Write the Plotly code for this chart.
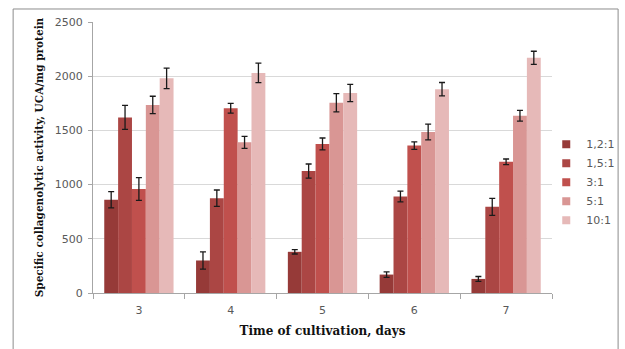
import plotly.graph_objects as go

# Cultivation time (days) and substrate ratios
days = ["3", "4", "5", "6", "7"]
ratios = ["1,2:1", "1,5:1", "3:1", "5:1", "10:1"]

# Specific collagenolytic activity, UCA/mg protein (mean values per ratio)
act_1_2 = [860, 300, 380, 170, 130]
act_1_5 = [1620, 875, 1125, 890, 795]
act_3 = [960, 1705, 1375, 1360, 1210]
act_5 = [1735, 1390, 1755, 1485, 1635]
act_10 = [1980, 2030, 1845, 1880, 2170]

# Standard deviations
err_1_2 = [75, 80, 20, 25, 22]
err_1_5 = [110, 75, 65, 50, 78]
err_3 = [105, 45, 55, 35, 26]
err_5 = [80, 55, 85, 72, 50]
err_10 = [95, 90, 80, 62, 60]

values = [act_1_2, act_1_5, act_3, act_5, act_10]
errors = [err_1_2, err_1_5, err_3, err_5, err_10]
colors = ["#963a38", "#ab4644", "#c0504d", "#d99694", "#e6b9b8"]

fig = go.Figure()
for name, vals, errs, col in zip(ratios, values, errors, colors):
    fig.add_trace(go.Bar(
        x=days, y=vals, name=name, showlegend=False,
        marker=dict(color=col, line=dict(width=0)),
        error_y=dict(type="data", array=errs, visible=True,
                     color="#1a1a1a", thickness=1.3, width=3),
    ))
    # compact square swatch for the legend
    fig.add_trace(go.Scatter(
        x=[None], y=[None], mode="markers", name=name,
        marker=dict(symbol="square", size=8, color=col),
    ))

tick_font = dict(family="DejaVu Sans", size=11, color="#595959")

fig.update_layout(
    width=625, height=349,
    margin=dict(l=93, r=73, t=22, b=56, autoexpand=False),
    paper_bgcolor="white", plot_bgcolor="white",
    barmode="group", bargap=0.245, bargroupgap=0,
    legend=dict(xref="container", yref="container",
                x=0.874, y=0.478, xanchor="left", yanchor="middle",
                font=dict(family="DejaVu Sans", size=11, color="#595959"),
                itemwidth=30, tracegroupgap=0, bgcolor="rgba(0,0,0,0)"),
    xaxis=dict(
        type="category", tickfont=tick_font,
        showline=True, linecolor="#a6a6a6", linewidth=1,
        ticks="outside", ticklen=5, tickcolor="#a6a6a6", tickson="boundaries",
        ticklabelstandoff=7,
        showgrid=False,
        title=dict(text="<b>Time of cultivation, days</b>",
                   font=dict(family="DejaVu Serif", size=12, color="#111111"), standoff=10),
    ),
    yaxis=dict(
        range=[0, 2500], dtick=500, tickfont=tick_font,
        showline=True, linecolor="#a6a6a6", linewidth=1,
        ticks="outside", ticklen=4, tickcolor="#a6a6a6",
        ticklabelstandoff=3,
        showgrid=True, gridcolor="#d9d9d9", gridwidth=1.3,
        zeroline=False,
        title=dict(text="<b>Specific collagenolytic activity, UCA/mg protein</b>",
                   font=dict(family="DejaVu Serif", size=10.5, color="#111111"), standoff=9),
    ),
    shapes=[dict(type="rect", xref="paper", yref="paper",
                 x0=-0.174, x1=1.144, y0=-0.4, y1=1.048,
                 line=dict(color="#8c8c8c", width=1), layer="below")],
)

fig.write_html("out.html")
